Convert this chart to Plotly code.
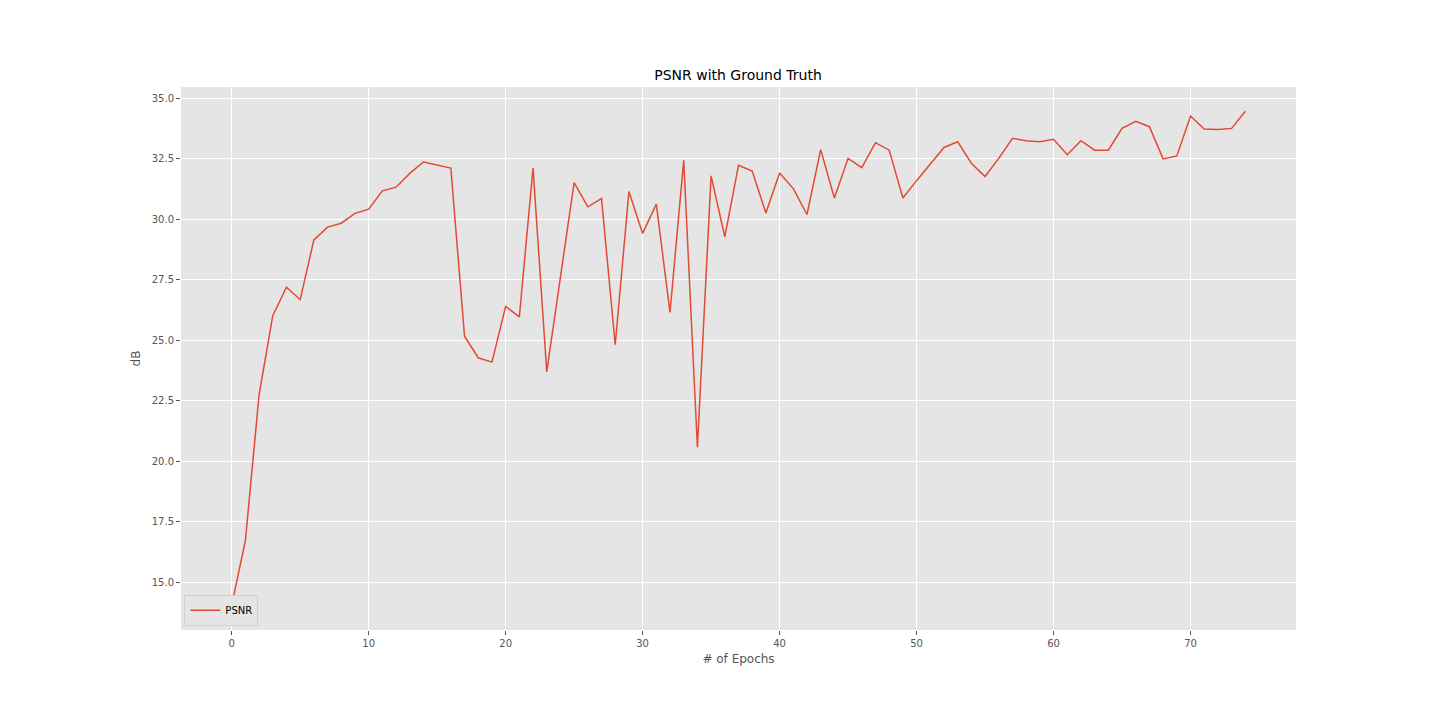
import plotly.graph_objects as go

epochs = list(range(75))
psnr = [14.05, 16.72, 22.75, 26.02, 27.2, 26.68, 29.15, 29.68, 29.84, 30.25,
        30.42, 31.18, 31.33, 31.9, 32.37, 32.25, 32.12, 25.17, 24.28, 24.1,
        26.4, 25.97, 32.12, 23.7, 27.7, 31.52, 30.52, 30.86, 24.82, 31.15,
        29.42, 30.63, 26.15, 32.44, 20.58, 31.8, 29.28, 32.23, 32.0, 30.26,
        31.92, 31.27, 30.2, 32.88, 30.88, 32.52, 32.14, 33.17, 32.86, 30.88,
        31.6, 32.27, 32.97, 33.21, 32.32, 31.77, 32.52, 33.35, 33.25, 33.21,
        33.31, 32.67, 33.25, 32.86, 32.86, 33.76, 34.05, 33.83, 32.5, 32.62,
        34.27, 33.73, 33.71, 33.76, 34.47]

x_ticks = [0, 10, 20, 30, 40, 50, 60, 70]
y_ticks = [15.0, 17.5, 20.0, 22.5, 25.0, 27.5, 30.0, 32.5, 35.0]

fig = go.Figure()
fig.add_trace(go.Scatter(
    x=epochs, y=psnr, mode="lines", name="PSNR",
    line=dict(color="#E24A33", width=1.5),
))

font_family = "DejaVu Sans"
W, H = 1432, 712
fig.update_layout(
    width=W, height=H,
    margin=dict(l=173, r=W - 173 - 1115, t=79, b=H - 79 - 543),
    paper_bgcolor="white",
    plot_bgcolor="#E5E5E5",
    font=dict(family=font_family, color="#555555", size=10),
    title=dict(text="PSNR with Ground Truth", x=(738 - 8) / W, xanchor="center",
               y=1 - 67 / H, yanchor="middle",
               font=dict(family=font_family, size=14, color="black")),
    showlegend=True,
    legend=dict(x=0.003, y=0.008, xanchor="left", yanchor="bottom",
                bgcolor="#E5E5E5", bordercolor="#D0D0D0", borderwidth=1,
                itemwidth=30, tracegroupgap=0,
                font=dict(size=10, color="black")),
    xaxis=dict(
        range=[-3.7, 77.7], tickvals=x_ticks, ticktext=[str(v) for v in x_ticks],
        showgrid=True, gridcolor="white", gridwidth=1, zeroline=False,
        ticks="outside", ticklen=4, tickcolor="#555555",
        title=dict(text="# of Epochs", font=dict(size=12, color="#555555"), standoff=6),
        showline=False,
    ),
    yaxis=dict(
        range=[13.03, 35.47], tickvals=y_ticks, ticktext=[f"{v:.1f}" for v in y_ticks],
        showgrid=True, gridcolor="white", gridwidth=1, zeroline=False,
        ticks="outside", ticklen=4, tickcolor="#555555",
        title=dict(text="dB", font=dict(size=12, color="#555555"), standoff=8),
        showline=False,
    ),
)

fig.write_html("out.html")
